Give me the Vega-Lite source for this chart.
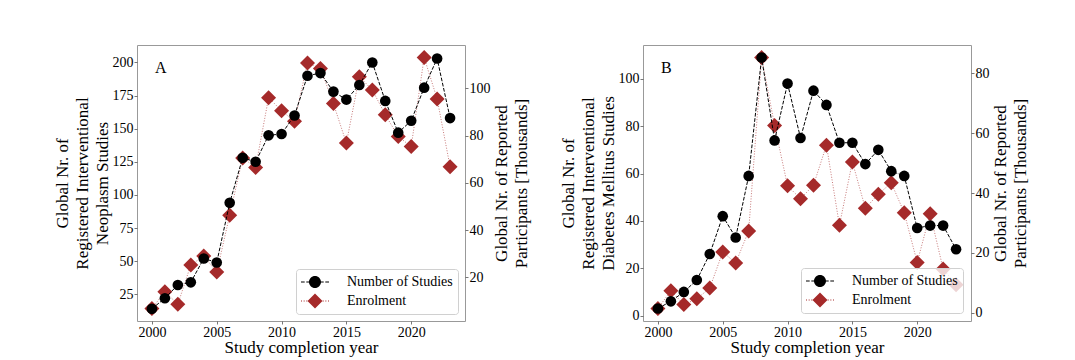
{
  "$schema": "https://vega.github.io/schema/vega-lite/v6.json",
  "background": "white",
  "padding": {"left": 52, "top": 44, "right": 5, "bottom": 5},
  "config": {
    "font": "Liberation Serif",
    "view": {"stroke": "#999999", "strokeWidth": 1},
    "axis": {
      "grid": false, "domain": false,
      "labelFont": "Liberation Serif", "labelFontSize": 14, "labelColor": "#000000",
      "tickColor": "#555555", "tickSize": 3, "tickWidth": 0.8, "labelPadding": 1,
      "titleFont": "Liberation Serif", "titleFontSize": 17, "titleFontWeight": "normal",
      "titleColor": "#000000", "titleLineHeight": 20
    },
    "legend": {
      "orient": "bottom-right", "offset": 7, "padding": 5,
      "fillColor": "rgba(255,255,255,0.8)", "strokeColor": "#d0d0d0", "cornerRadius": 3,
      "labelFont": "Liberation Serif", "labelFontSize": 14, "labelColor": "#000000",
      "labelOffset": 24, "symbolOffset": 6, "symbolSize": 256, "rowPadding": 4,
      "symbolOpacity": 1, "symbolStrokeWidth": 0
    },
    "title": {"font": "Liberation Serif", "fontSize": 16, "fontWeight": "normal", "color": "#000000"}
  },
  "datasets": {
    "neo": [
      {"year": 2000, "studies": 14, "enrol": 6.8},
      {"year": 2001, "studies": 22, "enrol": 13.9},
      {"year": 2002, "studies": 32, "enrol": 8.6},
      {"year": 2003, "studies": 34, "enrol": 25.2},
      {"year": 2004, "studies": 52, "enrol": 29},
      {"year": 2005, "studies": 49, "enrol": 22.2},
      {"year": 2006, "studies": 94, "enrol": 46.3},
      {"year": 2007, "studies": 128, "enrol": 70.5},
      {"year": 2008, "studies": 125, "enrol": 66.5},
      {"year": 2009, "studies": 145, "enrol": 96},
      {"year": 2010, "studies": 146, "enrol": 90.5},
      {"year": 2011, "studies": 160, "enrol": 86},
      {"year": 2012, "studies": 190, "enrol": 110.7},
      {"year": 2013, "studies": 192, "enrol": 108.4},
      {"year": 2014, "studies": 178, "enrol": 93.5},
      {"year": 2015, "studies": 172, "enrol": 76.8},
      {"year": 2016, "studies": 183, "enrol": 104.9},
      {"year": 2017, "studies": 200, "enrol": 99.3},
      {"year": 2018, "studies": 171, "enrol": 88.8},
      {"year": 2019, "studies": 147, "enrol": 79.6},
      {"year": 2020, "studies": 156, "enrol": 75.3},
      {"year": 2021, "studies": 181, "enrol": 113},
      {"year": 2022, "studies": 203, "enrol": 95.5},
      {"year": 2023, "studies": 158, "enrol": 66.8}
    ],
    "dia": [
      {"year": 2000, "studies": 3, "enrol": 1.4},
      {"year": 2001, "studies": 6, "enrol": 7.3},
      {"year": 2002, "studies": 10, "enrol": 2.7},
      {"year": 2003, "studies": 15, "enrol": 4.6},
      {"year": 2004, "studies": 26, "enrol": 8.2},
      {"year": 2005, "studies": 42, "enrol": 20.3},
      {"year": 2006, "studies": 33, "enrol": 16.6},
      {"year": 2007, "studies": 59, "enrol": 27.3},
      {"year": 2008, "studies": 109, "enrol": 85.3},
      {"year": 2009, "studies": 74, "enrol": 62.6},
      {"year": 2010, "studies": 98, "enrol": 42.4},
      {"year": 2011, "studies": 75, "enrol": 38.1},
      {"year": 2012, "studies": 95, "enrol": 42.6},
      {"year": 2013, "studies": 89, "enrol": 56},
      {"year": 2014, "studies": 73, "enrol": 29.2},
      {"year": 2015, "studies": 73, "enrol": 50.4},
      {"year": 2016, "studies": 64, "enrol": 34.9},
      {"year": 2017, "studies": 70, "enrol": 39.6},
      {"year": 2018, "studies": 61, "enrol": 43.4},
      {"year": 2019, "studies": 59, "enrol": 33.4},
      {"year": 2020, "studies": 37, "enrol": 16.8},
      {"year": 2021, "studies": 38, "enrol": 33.1},
      {"year": 2022, "studies": 38, "enrol": 14.6},
      {"year": 2023, "studies": 28, "enrol": 9.3}
    ]
  },
  "spacing": 28,
  "resolve": {"scale": {"color": "independent", "shape": "independent"}, "legend": {"color": "independent", "shape": "independent"}},
  "hconcat": [
    {
      "width": 328, "height": 276,
      "title": {"text": "A", "anchor": "start", "frame": "group", "offset": 0, "dx": 18, "dy": 44, "baseline": "alphabetic"},
      "data": {"name": "neo"},
      "encoding": {
        "x": {"field": "year", "type": "quantitative",
          "scale": {"domain": [1998.85, 2024.15], "nice": false, "zero": false},
          "axis": {"values": [2000, 2005, 2010, 2015, 2020], "format": "d", "title": "Study completion year", "titlePadding": 0}}
      },
      "layer": [
        {
          "encoding": {
            "y": {"field": "enrol", "type": "quantitative",
              "scale": {"domain": [1.5, 118.3], "nice": false, "zero": false},
              "axis": {"orient": "right", "values": [20, 40, 60, 80, 100], "title": ["Global Nr. of Reported", "Participants [Thousands]"], "titleAngle": 270, "titleBaseline": "top", "titlePadding": -17}}
          },
          "layer": [
            {"mark": {"type": "line", "color": "#a52a2a", "strokeDash": [1, 1.65], "strokeWidth": 0.9, "opacity": 0.7}},
            {"mark": {"type": "point", "filled": true, "size": 225, "opacity": 1, "shape": "diamond", "color": "#a52a2a"}},
            {"mark": {"type": "point", "filled": true, "opacity": 0},
              "encoding": {
                "color": {"datum": "Enrolment", "type": "nominal",
                  "scale": {"domain": ["Number of Studies", "Enrolment"], "range": ["#000000", "#a52a2a"]},
                  "legend": {"title": null}},
                "shape": {"datum": "Enrolment", "type": "nominal",
                  "scale": {"domain": ["Number of Studies", "Enrolment"], "range": ["M-1.75,-0.0625H-1.2875V0.0625H-1.75Z M-1.0875,-0.0625H-0.625V0.0625H-1.0875Z M0.625,-0.0625H1.0875V0.0625H0.625Z M1.2875,-0.0625H1.75V0.0625H1.2875Z M0.75,0A0.75,0.75,0,1,1,-0.75,0A0.75,0.75,0,1,1,0.75,0Z", "M-1.75,-0.0625H-1.625V0.0625H-1.75Z M-1.41875,-0.0625H-1.29375V0.0625H-1.41875Z M-1.0875,-0.0625H-0.9625V0.0625H-1.0875Z M0.9625,-0.0625H1.0875V0.0625H0.9625Z M1.29375,-0.0625H1.41875V0.0625H1.29375Z M1.625,-0.0625H1.75V0.0625H1.625Z M0,-0.9375L0.9375,0L0,0.9375L-0.9375,0Z"]},
                  "legend": {"title": null}}
              }}
          ]
        },
        {
          "encoding": {
            "y": {"field": "studies", "type": "quantitative",
              "scale": {"domain": [4.8, 213.2], "nice": false, "zero": false},
              "axis": {"orient": "left", "values": [25, 50, 75, 100, 125, 150, 175, 200], "title": ["Global Nr. of", "Registered Interventional", "Neoplasm Studies"], "titlePadding": 1}}
          },
          "layer": [
            {"mark": {"type": "line", "color": "#000000", "strokeDash": [3.7, 1.6], "strokeWidth": 1}},
            {"mark": {"type": "point", "filled": true, "size": 113, "opacity": 1, "shape": "circle", "color": "#000000"}},
            {"mark": {"type": "point", "filled": true, "opacity": 0},
              "encoding": {
                "color": {"datum": "Number of Studies", "type": "nominal", "legend": {"title": null}},
                "shape": {"datum": "Number of Studies", "type": "nominal", "legend": {"title": null}}
              }}
          ]
        }
      ],
      "resolve": {"scale": {"y": "independent"}}
    },
    {
      "width": 328, "height": 276,
      "title": {"text": "B", "anchor": "start", "frame": "group", "offset": 0, "dx": 18, "dy": 44, "baseline": "alphabetic"},
      "data": {"name": "dia"},
      "encoding": {
        "x": {"field": "year", "type": "quantitative",
          "scale": {"domain": [1998.85, 2024.15], "nice": false, "zero": false},
          "axis": {"values": [2000, 2005, 2010, 2015, 2020], "format": "d", "title": "Study completion year", "titlePadding": 0}}
      },
      "layer": [
        {
          "encoding": {
            "y": {"field": "enrol", "type": "quantitative",
              "scale": {"domain": [-2.8, 89.5], "nice": false, "zero": false},
              "axis": {"orient": "right", "values": [0, 20, 40, 60, 80], "title": ["Global Nr. of Reported", "Participants [Thousands]"], "titleAngle": 270, "titleBaseline": "top", "titlePadding": -17}}
          },
          "layer": [
            {"mark": {"type": "line", "color": "#a52a2a", "strokeDash": [1, 1.65], "strokeWidth": 0.9, "opacity": 0.7}},
            {"mark": {"type": "point", "filled": true, "size": 225, "opacity": 1, "shape": "diamond", "color": "#a52a2a"}},
            {"mark": {"type": "point", "filled": true, "opacity": 0},
              "encoding": {
                "color": {"datum": "Enrolment", "type": "nominal",
                  "scale": {"domain": ["Number of Studies", "Enrolment"], "range": ["#000000", "#a52a2a"]},
                  "legend": {"title": null, "offset": 8}},
                "shape": {"datum": "Enrolment", "type": "nominal",
                  "scale": {"domain": ["Number of Studies", "Enrolment"], "range": ["M-1.75,-0.0625H-1.2875V0.0625H-1.75Z M-1.0875,-0.0625H-0.625V0.0625H-1.0875Z M0.625,-0.0625H1.0875V0.0625H0.625Z M1.2875,-0.0625H1.75V0.0625H1.2875Z M0.75,0A0.75,0.75,0,1,1,-0.75,0A0.75,0.75,0,1,1,0.75,0Z", "M-1.75,-0.0625H-1.625V0.0625H-1.75Z M-1.41875,-0.0625H-1.29375V0.0625H-1.41875Z M-1.0875,-0.0625H-0.9625V0.0625H-1.0875Z M0.9625,-0.0625H1.0875V0.0625H0.9625Z M1.29375,-0.0625H1.41875V0.0625H1.29375Z M1.625,-0.0625H1.75V0.0625H1.625Z M0,-0.9375L0.9375,0L0,0.9375L-0.9375,0Z"]},
                  "legend": {"title": null, "offset": 8}}
              }}
          ]
        },
        {
          "encoding": {
            "y": {"field": "studies", "type": "quantitative",
              "scale": {"domain": [-2.3, 114.3], "nice": false, "zero": false},
              "axis": {"orient": "left", "values": [0, 20, 40, 60, 80, 100], "title": ["Global Nr. of", "Registered Interventional", "Diabetes Mellitus Studies"], "titlePadding": 1}}
          },
          "layer": [
            {"mark": {"type": "line", "color": "#000000", "strokeDash": [3.7, 1.6], "strokeWidth": 1}},
            {"mark": {"type": "point", "filled": true, "size": 113, "opacity": 1, "shape": "circle", "color": "#000000"}},
            {"mark": {"type": "point", "filled": true, "opacity": 0},
              "encoding": {
                "color": {"datum": "Number of Studies", "type": "nominal", "legend": {"title": null, "offset": 8}},
                "shape": {"datum": "Number of Studies", "type": "nominal", "legend": {"title": null, "offset": 8}}
              }}
          ]
        }
      ],
      "resolve": {"scale": {"y": "independent"}}
    }
  ]
}
